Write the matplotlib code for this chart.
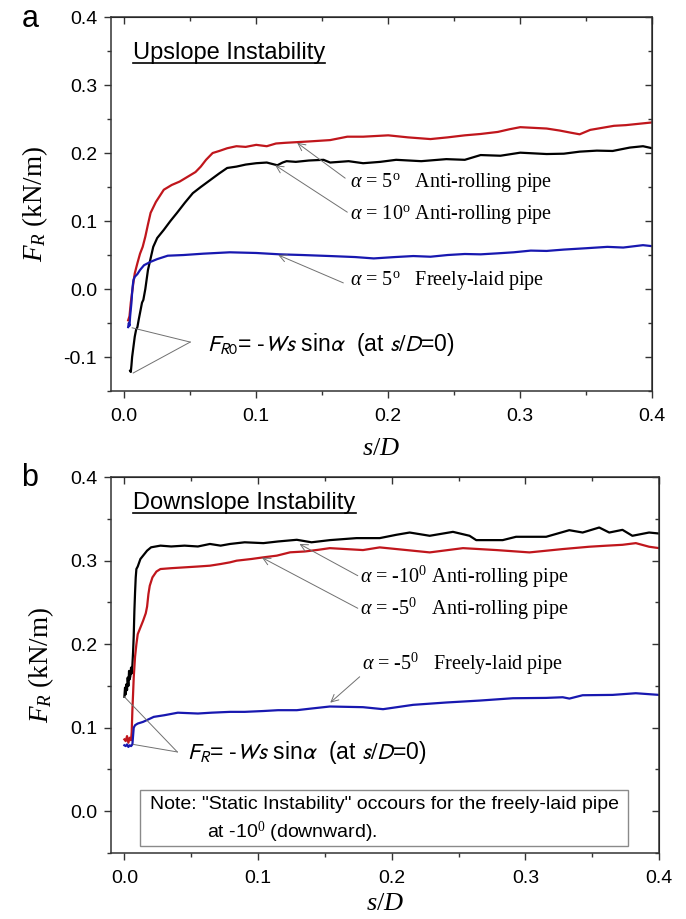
import matplotlib
matplotlib.use("Agg")
import matplotlib.pyplot as plt
from matplotlib.lines import Line2D
from matplotlib.patches import Rectangle
from matplotlib.ticker import MultipleLocator

plt.rcParams["font.family"] = ["Liberation Sans", "DejaVu Sans"]
plt.rcParams["mathtext.fontset"] = "custom"
plt.rcParams["mathtext.rm"] = "Liberation Serif"
plt.rcParams["mathtext.it"] = "Liberation Serif:italic"

# ---- panel a: upslope ----
s_a_red = [0.003, 0.004, 0.005, 0.006, 0.007, 0.008, 0.010, 0.012, 0.014, 0.016, 0.018,
           0.020, 0.024, 0.030, 0.036, 0.042, 0.048, 0.054, 0.058, 0.062, 0.067, 0.072,
           0.078, 0.085, 0.092, 0.100, 0.108, 0.115, 0.122, 0.131, 0.140, 0.156, 0.169,
           0.181, 0.200, 0.215, 0.232, 0.245, 0.258, 0.270, 0.283, 0.292, 0.300, 0.310,
           0.320, 0.330, 0.338, 0.345, 0.353, 0.362, 0.371, 0.380, 0.390, 0.400]
fr_a_red = [-0.046, -0.040, -0.020, -0.005, 0.010, 0.023, 0.038, 0.052, 0.062, 0.077, 0.095,
            0.112, 0.128, 0.146, 0.153, 0.158, 0.165, 0.172, 0.180, 0.190, 0.200, 0.203,
            0.207, 0.210, 0.209, 0.212, 0.210, 0.214, 0.215, 0.216, 0.217, 0.219, 0.224,
            0.224, 0.226, 0.223, 0.2205, 0.223, 0.226, 0.228, 0.231, 0.235, 0.238, 0.237,
            0.236, 0.233, 0.230, 0.2275, 0.234, 0.237, 0.240, 0.241, 0.243, 0.245]

s_a_blk = [0.0045, 0.005, 0.0055, 0.006, 0.007, 0.008, 0.009, 0.010, 0.011, 0.012, 0.0135,
           0.0145, 0.016, 0.018, 0.020, 0.022, 0.025, 0.030, 0.035, 0.040, 0.046, 0.052,
           0.058, 0.065, 0.072, 0.078, 0.085, 0.092, 0.100, 0.108, 0.116, 0.120, 0.123,
           0.130, 0.140, 0.151, 0.156, 0.170, 0.181, 0.194, 0.206, 0.225, 0.244, 0.258,
           0.270, 0.285, 0.300, 0.320, 0.333, 0.345, 0.358, 0.370, 0.383, 0.393, 0.400]
fr_a_blk = [-0.120, -0.122, -0.112, -0.100, -0.085, -0.070, -0.060, -0.056, -0.045, -0.035,
            -0.020, -0.016, 0.000, 0.028, 0.045, 0.062, 0.075, 0.087, 0.100, 0.112, 0.127,
            0.141, 0.150, 0.160, 0.170, 0.178, 0.180, 0.183, 0.185, 0.186, 0.182, 0.186,
            0.188, 0.187, 0.189, 0.190, 0.186, 0.188, 0.185, 0.187, 0.190, 0.188, 0.191,
            0.190, 0.197, 0.196, 0.2005, 0.1985, 0.199, 0.202, 0.2035, 0.203, 0.208, 0.210,
            0.207]

s_a_blu = [0.003, 0.0035, 0.004, 0.0045, 0.005, 0.0055, 0.006, 0.0065, 0.007, 0.008, 0.010,
           0.012, 0.015, 0.020, 0.025, 0.033, 0.045, 0.060, 0.080, 0.100, 0.118, 0.135,
           0.156, 0.175, 0.189, 0.205, 0.219, 0.232, 0.245, 0.258, 0.270, 0.283, 0.295,
           0.308, 0.320, 0.333, 0.350, 0.366, 0.378, 0.393, 0.400]
fr_a_blu = [-0.056, -0.050, -0.054, -0.040, -0.030, -0.020, -0.005, 0.005, 0.013, 0.018,
            0.022, 0.028, 0.035, 0.040, 0.044, 0.049, 0.050, 0.052, 0.054, 0.053, 0.051,
            0.050, 0.0485, 0.047, 0.045, 0.047, 0.0485, 0.0475, 0.050, 0.0515, 0.051,
            0.0525, 0.054, 0.0565, 0.056, 0.058, 0.060, 0.062, 0.061, 0.0645, 0.063]

# ---- panel b: downslope ----
s_b_blk = [0.000, 0.0005, 0.001, 0.0015, 0.002, 0.0025, 0.003, 0.0035, 0.004, 0.0045, 0.005,
           0.0055, 0.006, 0.0065, 0.007, 0.0075, 0.008, 0.0085, 0.009, 0.010, 0.012, 0.014,
           0.017, 0.020, 0.027, 0.035, 0.045, 0.055, 0.064, 0.072, 0.079, 0.090, 0.104,
           0.115, 0.129, 0.140, 0.1537, 0.1736, 0.191, 0.2035, 0.2134, 0.2284, 0.2458,
           0.2582, 0.2632, 0.283, 0.293, 0.3155, 0.3328, 0.3428, 0.3552, 0.3627, 0.3726,
           0.380, 0.3925, 0.400]
fr_b_blk = [0.137, 0.148, 0.140, 0.152, 0.145, 0.160, 0.150, 0.168, 0.158, 0.162, 0.172,
            0.165, 0.175, 0.190, 0.210, 0.240, 0.262, 0.280, 0.290, 0.293, 0.302, 0.306,
            0.312, 0.316, 0.318, 0.317, 0.318, 0.317, 0.320, 0.318, 0.320, 0.322, 0.321,
            0.323, 0.325, 0.322, 0.3246, 0.327, 0.327, 0.331, 0.3337, 0.3298, 0.3345,
            0.3298, 0.3246, 0.3246, 0.3286, 0.3286, 0.3365, 0.3337, 0.3397, 0.3337, 0.3369,
            0.3298, 0.3337, 0.3325]

s_b_red = [0.000, 0.001, 0.002, 0.003, 0.004, 0.005, 0.0055, 0.006, 0.0065, 0.007, 0.008,
           0.009, 0.010, 0.012, 0.014, 0.016, 0.017, 0.018, 0.019, 0.021, 0.024, 0.027,
           0.035, 0.045, 0.055, 0.064, 0.072, 0.079, 0.084, 0.095, 0.104, 0.114, 0.124,
           0.135, 0.145, 0.1537, 0.1785, 0.191, 0.216, 0.2284, 0.2533, 0.2782, 0.303,
           0.3279, 0.3478, 0.3602, 0.3726, 0.3826, 0.3925, 0.400]
fr_b_red = [0.086, 0.084, 0.090, 0.082, 0.088, 0.085, 0.095, 0.121, 0.140, 0.160, 0.185,
            0.200, 0.212, 0.220, 0.228, 0.237, 0.245, 0.260, 0.270, 0.280, 0.287, 0.290,
            0.291, 0.292, 0.293, 0.294, 0.296, 0.298, 0.300, 0.302, 0.304, 0.306, 0.310,
            0.311, 0.313, 0.315, 0.3127, 0.3159, 0.3119, 0.3099, 0.315, 0.3127, 0.3099,
            0.3139, 0.3167, 0.3179, 0.319, 0.321, 0.3167, 0.315]

s_b_blu = [0.000, 0.001, 0.002, 0.003, 0.004, 0.005, 0.006, 0.0065, 0.007, 0.008, 0.010,
           0.012, 0.014, 0.018, 0.022, 0.030, 0.040, 0.055, 0.065, 0.079, 0.090, 0.104,
           0.115, 0.129, 0.140, 0.1537, 0.1785, 0.1935, 0.216, 0.2408, 0.2657, 0.2906,
           0.3155, 0.3279, 0.3329, 0.3428, 0.3652, 0.3826, 0.400]
fr_b_blu = [0.079, 0.078, 0.080, 0.077, 0.079, 0.078, 0.080, 0.090, 0.100, 0.103, 0.105,
            0.106, 0.107, 0.110, 0.113, 0.115, 0.118, 0.117, 0.118, 0.119, 0.119, 0.120,
            0.121, 0.121, 0.123, 0.1254, 0.1246, 0.1222, 0.1274, 0.1302, 0.1325, 0.1353,
            0.1357, 0.1365, 0.1349, 0.1389, 0.1393, 0.1413, 0.1393]

RED = "#c0161c"
BLUE = "#1818b0"
GRAY = "#707070"
SERIF = ["Liberation Serif", "DejaVu Serif"]

fig = plt.figure(figsize=(6.86, 9.19), dpi=100)
ax1 = fig.add_axes([0.1618, 0.5745, 0.789, 0.407])
ax2 = fig.add_axes([0.1618, 0.0718, 0.799, 0.409])


def style_axes(ax, ylo, xpad):
    ax.set_xlim(-0.01, 0.4)
    ax.set_ylim(ylo, 0.4)
    ax.xaxis.set_major_locator(MultipleLocator(0.1))
    ax.xaxis.set_minor_locator(MultipleLocator(0.05))
    ax.yaxis.set_major_locator(MultipleLocator(0.1))
    ax.yaxis.set_minor_locator(MultipleLocator(0.05))
    ax.xaxis.set_major_formatter(plt.FuncFormatter(lambda v, p: f"{v:.1f}"))
    ax.yaxis.set_major_formatter(plt.FuncFormatter(lambda v, p: f"{v:.1f}"))
    for sp in ax.spines.values():
        sp.set_linewidth(1.1)
        sp.set_color("#333333")
    ax.tick_params(which="both", direction="out", top=False, right=False,
                   labelsize=14, color="#333333", width=1.0)
    ax.tick_params(which="major", length=5)
    ax.tick_params(which="minor", length=3)
    ax.tick_params(axis="x", which="major", pad=7)
    ax.tick_params(axis="y", which="major", pad=5)
    # inward ticks on top and right
    sec_x = ax.secondary_xaxis("top")
    sec_x.xaxis.set_major_locator(MultipleLocator(0.1))
    sec_x.xaxis.set_minor_locator(MultipleLocator(0.05))
    sec_x.tick_params(which="both", direction="in", labeltop=False, color="#333333", width=1.0)
    sec_x.tick_params(which="major", length=5)
    sec_x.tick_params(which="minor", length=3)
    sec_y = ax.secondary_yaxis("right")
    sec_y.yaxis.set_major_locator(MultipleLocator(0.1))
    sec_y.yaxis.set_minor_locator(MultipleLocator(0.05))
    sec_y.tick_params(which="both", direction="in", labelright=False, color="#333333", width=1.0)
    sec_y.tick_params(which="major", length=5)
    sec_y.tick_params(which="minor", length=3)
    ax.set_xlabel("$\\it{s/D}$", fontsize=19, labelpad=xpad)
    ax.set_ylabel("$F_R$ (kN/m)", fontsize=19.5, family=SERIF, labelpad=10)


def arrow(ax, tail, head):
    ax.annotate("", xy=head, xytext=tail,
                arrowprops=dict(arrowstyle="->", color=GRAY, lw=0.7,
                                shrinkA=0, shrinkB=0, mutation_scale=13))


def plain_line(ax, p0, p1):
    ax.plot([p0[0], p1[0]], [p0[1], p1[1]], color=GRAY, lw=0.7)


# ---------- panel a ----------
ax1.plot(s_a_red, fr_a_red, color=RED, lw=1.6)
ax1.plot(s_a_blk, fr_a_blk, color="black", lw=1.6)
ax1.plot(s_a_blu, fr_a_blu, color=BLUE, lw=1.6)
style_axes(ax1, -0.15, 8)

t1 = ax1.text(0.0068, 0.347, "Upslope Instability", fontsize=17, va="center", ha="left")

ax1.text(0.171, 0.156, "$\\alpha$ = 5$^{\\mathrm{o}}$   Anti-rolling pipe",
         family=SERIF, fontsize=14.5, va="center")
ax1.text(0.171, 0.109, "$\\alpha$ = 10$^{\\mathrm{o}}$ Anti-rolling pipe",
         family=SERIF, fontsize=14.5, va="center")
ax1.text(0.171, 0.013, "$\\alpha$ = 5$^{\\mathrm{o}}$   Freely-laid pipe",
         family=SERIF, fontsize=14.5, va="center")
arrow(ax1, (0.1674, 0.163), (0.131, 0.215))
arrow(ax1, (0.169, 0.113), (0.1144, 0.182))
arrow(ax1, (0.166, 0.009), (0.1167, 0.050))

ax1.text(0.063, -0.082, "$F_{R0}$= -$Ws$ sin$\\alpha$  (at $s/D$=0)", fontsize=16.5,
         va="center", math_fontfamily="stixsans")
plain_line(ax1, (0.050, -0.078), (0.006, -0.057))
plain_line(ax1, (0.050, -0.078), (0.0068, -0.1235))

# ---------- panel b ----------
ax2.plot(s_b_blk, fr_b_blk, color="black", lw=1.6)
ax2.plot(s_b_red, fr_b_red, color=RED, lw=1.6)
ax2.plot(s_b_blu, fr_b_blu, color=BLUE, lw=1.6)
style_axes(ax2, -0.05, 3)

t2 = ax2.text(0.0067, 0.369, "Downslope Instability", fontsize=17, va="center", ha="left")

ax2.text(0.176, 0.280, "$\\alpha$ = -10$^{0}$ Anti-rolling pipe",
         family=SERIF, fontsize=14.5, va="center")
ax2.text(0.176, 0.2417, "$\\alpha$ = -5$^{0}$   Anti-rolling pipe",
         family=SERIF, fontsize=14.5, va="center")
ax2.text(0.178, 0.177, "$\\alpha$ = -5$^{0}$   Freely-laid pipe",
         family=SERIF, fontsize=14.5, va="center")
arrow(ax2, (0.1746, 0.282), (0.131, 0.320))
arrow(ax2, (0.1746, 0.243), (0.103, 0.3036))
arrow(ax2, (0.176, 0.161), (0.154, 0.130))

ax2.text(0.047, 0.070, "$F_R$= -$Ws$ sin$\\alpha$  (at $s/D$=0)", fontsize=16.5,
         va="center", math_fontfamily="stixsans")
plain_line(ax2, (0.0396, 0.071), (0.0, 0.137))
plain_line(ax2, (0.0396, 0.071), (0.0067, 0.080))

ax2.add_patch(Rectangle((0.0119, -0.042), 0.365, 0.068, fill=False,
                        edgecolor="#8a8a8a", lw=1.0))
ax2.text(0.0194, 0.008, 'Note: "Static Instability" occours for the freely-laid pipe',
         fontsize=14, va="center")
ax2.text(0.062, -0.025, "at -10$^{0}$ (downward).", fontsize=14, va="center")

# panel letters
fig.text(30 / 686, 1 - 19 / 919, "a", fontsize=22, ha="center", va="center")
fig.text(30 / 686, 1 - 478 / 919, "b", fontsize=22, ha="center", va="center")

# underline the titles
fig.canvas.draw()
rend = fig.canvas.get_renderer()
for t in (t1, t2):
    bb = t.get_window_extent(renderer=rend)
    fig.add_artist(Line2D([bb.x0, bb.x1], [bb.y0 + 1, bb.y0 + 1], transform=None,
                          color="black", lw=1.2))

fig.savefig("out.png", dpi=100)
plt.close(fig)
